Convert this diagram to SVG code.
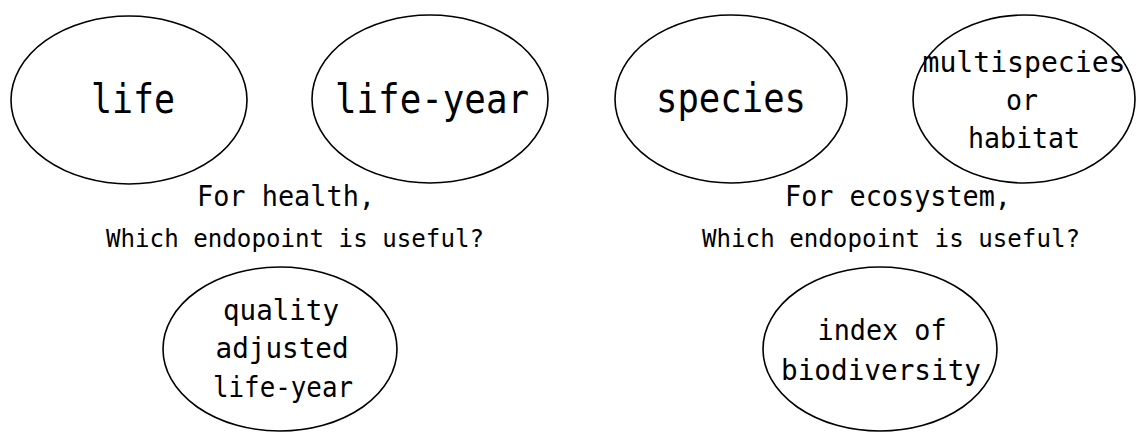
<svg xmlns="http://www.w3.org/2000/svg" width="1138" height="432" viewBox="0 0 1138 432">
<style>
.bg{fill:#fff}
.node ellipse{fill:none;stroke:#000;stroke-width:1.6}
text{font-family:"DejaVu Sans Mono","Liberation Mono",monospace;fill:#000;text-anchor:middle}
.big{font-size:40px}
.mid{font-size:28px}
.q1{font-size:29px}
.q2{font-size:25px}
</style>
<rect class="bg" x="0" y="0" width="1138" height="432"/>
<g id="node-life" class="node">
<ellipse cx="129" cy="100" rx="118" ry="84"/>
<text class="big" x="133" y="113" textLength="84" lengthAdjust="spacingAndGlyphs">life</text>
</g>
<g id="node-life-year" class="node">
<ellipse cx="430" cy="99" rx="118" ry="84"/>
<text class="big" x="432" y="113" textLength="194" lengthAdjust="spacingAndGlyphs">life-year</text>
</g>
<g id="node-species" class="node">
<ellipse cx="731" cy="99" rx="116" ry="84"/>
<text class="big" x="731" y="112" textLength="150" lengthAdjust="spacingAndGlyphs">species</text>
</g>
<g id="node-multispecies" class="node">
<ellipse cx="1024" cy="99" rx="111" ry="84"/>
<text class="mid" x="1024" y="72" textLength="203" lengthAdjust="spacingAndGlyphs">multispecies</text>
<text class="mid" x="1022" y="110" textLength="32" lengthAdjust="spacingAndGlyphs">or</text>
<text class="mid" x="1024" y="148" textLength="112" lengthAdjust="spacingAndGlyphs">habitat</text>
</g>
<g id="label-health">
<text class="q1" x="286" y="206" textLength="178" lengthAdjust="spacingAndGlyphs">For health,</text>
<text class="q2" x="295" y="247" textLength="378" lengthAdjust="spacingAndGlyphs">Which endopoint is useful?</text>
</g>
<g id="label-ecosystem">
<text class="q1" x="898" y="206" textLength="226" lengthAdjust="spacingAndGlyphs">For ecosystem,</text>
<text class="q2" x="891" y="247" textLength="378" lengthAdjust="spacingAndGlyphs">Which endopoint is useful?</text>
</g>
<g id="node-qaly" class="node">
<ellipse cx="280" cy="349" rx="117" ry="82"/>
<text class="mid" x="281" y="320" textLength="116" lengthAdjust="spacingAndGlyphs">quality</text>
<text class="mid" x="282" y="358" textLength="133" lengthAdjust="spacingAndGlyphs">adjusted</text>
<text class="mid" x="283" y="397" textLength="140" lengthAdjust="spacingAndGlyphs">life-year</text>
</g>
<g id="node-biodiversity" class="node">
<ellipse cx="880" cy="349" rx="117" ry="82"/>
<text class="mid" x="882" y="340" textLength="129" lengthAdjust="spacingAndGlyphs">index of</text>
<text class="mid" x="881" y="380" textLength="200" lengthAdjust="spacingAndGlyphs">biodiversity</text>
</g>
</svg>
